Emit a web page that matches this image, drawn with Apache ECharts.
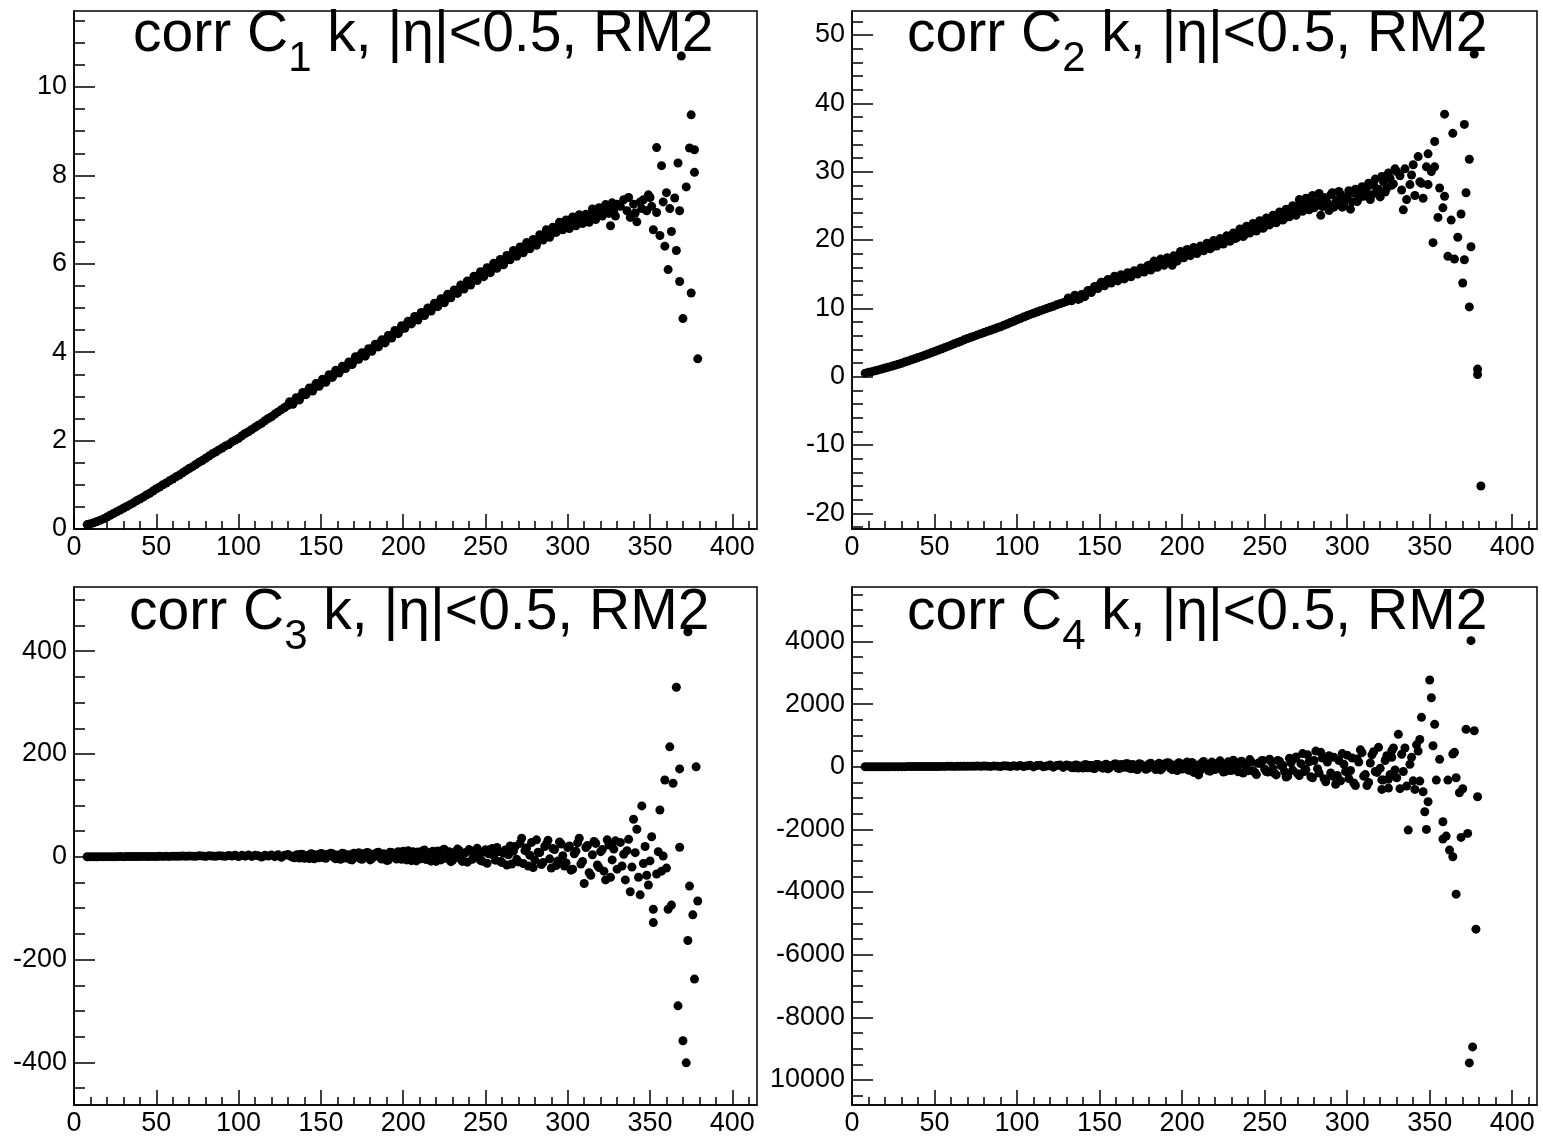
<!DOCTYPE html>
<html>
<head>
<meta charset="utf-8">
<script src="https://cdn.jsdelivr.net/npm/echarts@6/dist/echarts.min.js"></script>
<style>
html,body{margin:0;padding:0;background:#fff;}
#main{width:1543px;height:1144px;}
</style>
</head>
<body>
<div id="main"></div>
<script>
// multiplicity bins (dense part of every panel)
var k = [8,10,12,14,16,18,20,22,24,26,28,30,32,34,36,38,40,42,44,46,48,50,52,54,56,58,60,62,64,66,68,70,72,74,76,78,80,82,84,86,88,90,92,94,96,98,100,102,104,106,108,110,112,114,116,118,120,122,124,126,128,130,132,134,136,138,140,142,144,146,148,150,152,154,156,158,160,162,164,166,168,170,172,174,176,178,180,182,184,186,188,190,192,194,196,198,200,202,204,206,208,210,212,214,216,218,220,222,224,226,228,230,232,234,236,238,240,242,244,246,248,250,252,254,256,258,260,262,264,266,268,270,272,274,276,278,280,282,284,286,288,290,292,294,296,298,300,302,304,306,308,310,312,314,316,318,320,322,324,326,328,330];
// odd bins in the noisier middle range
var kOdd = [131,133,135,137,139,141,143,145,147,149,151,153,155,157,159,161,163,165,167,169,171,173,175,177,179,181,183,185,187,189,191,193,195,197,199,201,203,205,207,209,211,213,215,217,219,221,223,225,227,229,231,233,235,237,239,241,243,245,247,249,251,253,255,257,259,261,263,265,267,269,271,273,275,277,279,281,283,285,287,289,291,293,295,297,299,301,303,305,307,309,311,313,315,317,319,321,323,325,327,329];

// corr C1 k
var c1 = [0.10,0.12,0.14,0.17,0.20,0.23,0.27,0.31,0.35,0.39,
  0.43,0.47,0.51,0.55,0.59,0.64,0.68,0.72,0.77,0.81,
  0.86,0.91,0.95,1.00,1.04,1.09,1.13,1.18,1.22,1.27,
  1.32,1.37,1.41,1.46,1.51,1.55,1.60,1.65,1.70,1.74,
  1.79,1.83,1.88,1.91,1.97,2.01,2.05,2.11,2.16,2.20,
  2.25,2.30,2.35,2.39,2.45,2.50,2.54,2.60,2.65,2.70,
  2.75,2.80,2.85,2.89,2.95,3.01,3.05,3.12,3.14,3.20,
  3.24,3.31,3.37,3.40,3.46,3.51,3.55,3.60,3.66,3.70,
  3.75,3.80,3.86,3.93,3.95,3.99,4.05,4.10,4.14,4.20,
  4.25,4.30,4.35,4.40,4.46,4.50,4.56,4.63,4.66,4.72,
  4.76,4.82,4.87,4.91,4.96,5.02,5.06,5.12,5.16,5.20,
  5.27,5.33,5.36,5.42,5.47,5.53,5.56,5.62,5.67,5.72,
  5.76,5.80,5.86,5.90,5.95,6.00,6.04,6.08,6.12,6.20,
  6.22,6.28,6.30,6.36,6.40,6.45,6.48,6.55,6.58,6.66,
  6.70,6.68,6.78,6.83,6.85,6.90,6.88,6.92,6.98,6.95,
  7.05,7.02,6.98,7.10,7.15,7.08,7.22,7.18,7.26,7.30,
  7.20,7.35];
var c1Odd = [2.88,2.82,2.97,2.92,3.09,3.04,3.19,3.12,3.29,3.23,
  3.39,3.32,3.49,3.43,3.59,3.53,3.68,3.63,3.78,3.72,
  3.90,3.84,3.99,3.91,4.08,4.02,4.18,4.12,4.28,4.21,
  4.38,4.32,4.49,4.42,4.60,4.54,4.70,4.64,4.81,4.73,
  4.90,4.83,5.00,4.93,5.11,5.03,5.21,5.12,5.31,5.23,
  5.41,5.33,5.52,5.43,5.61,5.52,5.72,5.62,5.82,5.71,
  5.91,5.80,6.01,5.90,6.10,5.98,6.19,6.09,6.30,6.17,
  6.38,6.25,6.48,6.34,6.55,6.42,6.66,6.54,6.77,6.60,
  6.83,6.71,6.94,6.77,6.99,6.80,7.06,6.86,7.11,6.91,
  7.12,6.94,7.24,7.00,7.27,7.08,7.34,7.14,7.38,7.08];
var c1Tail = [[326,6.86],[332,7.30],[334,7.45],[336,7.20],[337,7.50],[338,7.05],[340,7.35],[341,7.15],[342,6.95],[344,7.40],[345,7.25],[346,7.45],[348,7.20],[349,7.56],[350,7.50],[351,7.30],[352,6.77],[354,8.63],[354,7.16],[356,6.64],[357,8.22],[358,7.40],[359,6.40],[360,7.61],[361,5.87],[362,7.25],[363,6.73],[365,7.49],[366,6.30],[367,8.28],[368,7.20],[368,5.60],[369,10.70],[370,4.76],[372,7.74],[374,8.62],[375,5.34],[375,9.37],[377,8.58],[377,8.07],[379,3.85]];

// corr C2 k
var c2 = [0.50,0.62,0.72,0.85,0.98,1.12,1.25,1.38,1.52,1.66,
  1.80,1.95,2.12,2.28,2.45,2.62,2.80,2.96,3.14,3.30,
  3.48,3.66,3.85,4.04,4.22,4.42,4.60,4.80,4.98,5.18,
  5.38,5.58,5.75,5.92,6.10,6.26,6.44,6.62,6.78,6.96,
  7.14,7.30,7.52,7.70,7.92,8.10,8.32,8.50,8.72,8.90,
  9.10,9.27,9.45,9.62,9.80,9.98,10.15,10.30,10.50,10.66,
  10.82,11.00,11.30,11.45,11.62,11.40,11.95,12.25,12.40,12.80,
  13.05,13.40,13.60,13.90,14.05,14.30,14.20,14.55,14.60,14.80,
  14.95,15.10,15.30,15.45,15.60,15.80,16.30,15.90,16.60,16.40,
  16.70,16.80,17.30,16.30,17.50,17.40,17.80,17.95,18.00,18.40,
  18.30,18.50,18.70,18.90,19.10,18.95,19.40,19.60,19.80,20.00,
  20.30,20.50,20.20,20.90,21.30,20.80,21.60,21.90,21.50,22.20,
  22.40,22.00,22.70,23.10,22.80,23.30,23.60,23.20,23.90,24.30,
  24.10,24.90,25.50,24.60,25.20,26.00,24.70,25.60,23.60,26.20,
  25.40,26.60,24.80,25.80,26.70,25.10,26.30,24.50,26.90,25.60,
  27.20,26.40,27.70,25.90,28.00,27.10,26.30,28.50,27.60,29.00,
  28.20,30.00];
var c2Odd = [11.5,11.1,11.9,11.3,12.0,11.7,12.6,12.3,13.2,12.9,
  13.8,13.3,14.2,13.7,14.7,14.0,14.9,14.3,15.2,14.6,
  15.5,15.0,15.9,15.3,16.2,15.6,16.9,16.0,17.2,16.3,
  17.4,16.6,17.7,16.9,18.3,17.4,18.6,17.7,18.9,18.0,
  19.1,18.4,19.5,18.7,19.9,19.1,20.2,19.4,20.6,19.8,
  21.0,20.3,21.6,20.5,22.0,21.0,22.4,21.3,22.8,21.7,
  23.2,22.2,23.6,22.5,24.1,22.9,24.5,23.4,25.0,23.6,
  25.9,24.2,26.1,24.4,26.5,25.0,26.8,24.9,25.8,24.3,
  26.9,25.5,27.1,24.8,26.0,27.2,25.6,27.4,26.1,27.8,
  26.8,28.3,26.6,28.9,27.4,29.3,27.0,29.8,28.0,30.4];
var c2Tail = [[332,29.4],[333,27.3],[334,24.4],[335,30.4],[336,25.9],[338,28.1],[339,29.5],[340,31.0],[341,26.5],[343,32.2],[344,28.5],[345,28.3],[346,26.1],[348,30.7],[349,28.1],[349,32.6],[351,30.0],[352,19.6],[353,34.4],[353,30.7],[355,23.3],[356,27.6],[358,24.7],[359,38.4],[359,26.4],[361,17.6],[363,22.9],[364,35.6],[365,17.2],[367,20.4],[369,23.8],[370,13.7],[371,36.9],[371,17.1],[372,26.9],[374,31.8],[374,10.2],[375,19.0],[377,47.2],[379,1.1],[379,0.3],[381,-16.0]];

// corr C3 k
var c3 = [0.0,0.1,0.1,0.1,0.2,0.2,0.2,0.3,0.3,0.3,
  0.4,0.3,0.5,0.4,0.5,0.6,0.4,0.7,0.6,0.5,
  0.8,0.6,0.9,0.7,1.0,0.8,1.2,0.9,1.1,1.3,
  0.9,1.5,1.2,1.0,1.8,1.4,0.8,2.0,1.5,1.1,
  2.2,1.3,0.9,2.5,1.6,3.0,0.5,2.8,1.2,3.5,
  0.8,3.0,2.0,-0.5,2.8,1.5,3.5,0.2,4.0,-1.0,
  3.0,4.5,1.0,-2.0,4.0,5.0,-3.0,2.5,6.0,-4.0,
  4.0,6.5,-2.0,5.0,7.0,-1.5,3.5,-5.0,6.0,3.0,
  -5.5,7.0,2.0,-4.0,6.0,8.5,-6.0,4.0,8.0,-2.0,
  6.0,-7.0,9.0,3.5,-4.5,8.0,11.0,-6.0,5.5,10.0,
  -8.0,4.0,12.0,-5.5,8.0,11.0,-9.0,6.0,13.0,-3.0,
  10.0,-7.0,5.0,12.5,-9.0,8.5,14.0,-5.0,11.5,2.0,
  -8.5,13.5,6.0,16.0,-6.5,10.0,-11.0,13.0,4.0,-14.0,
  20.0,-10.0,36.0,12.0,-18.0,28.0,-6.0,9.0,-15.0,20.0,
  32.0,-22.0,14.0,-8.0,25.0,-18.0,18.0,-26.0,6.0,27.0,
  -14.0,-52.0,22.0,-36.0,30.0,-16.0,10.0,-28.0,33.0,-40.0,
  15.0,-24.0];
var c3Odd = [2.0,-1.0,3.5,-2.5,4.5,1.0,-3.5,5.0,0.5,-2.0,
  5.5,-3.0,2.5,6.0,-4.0,1.5,7.0,-2.5,4.0,-6.0,
  3.0,8.0,-5.0,1.0,7.5,-3.5,5.5,9.0,-4.5,2.5,
  -6.5,8.5,1.5,10.0,-5.0,4.0,12.0,-7.5,2.0,9.5,
  -4.0,13.0,6.5,-8.5,3.0,11.5,-6.0,14.5,0.5,-9.5,
  8.0,15.0,-4.5,6.0,-10.5,12.0,3.0,16.5,-7.0,9.0,
  -12.5,14.0,2.5,18.0,-9.0,7.0,-16.0,21.0,11.0,-5.0,
  26.0,-13.0,17.0,3.0,-21.0,33.0,8.0,-11.0,24.0,-4.0,
  16.0,-17.0,29.0,2.0,-12.0,21.0,-24.0,11.0,36.0,-9.0,
  18.0,-31.0,4.0,26.0,-21.0,14.0,-45.0,23.0,-6.0,31.0];
var c3Tail = [[332,28],[333,-18],[334,5],[335,-45],[336,12],[337,34],[338,-68],[339,-20],[340,73],[341,8],[342,53.5],[343,-40],[344,-74],[345,99],[346,-13],[347,20],[348,-36],[349,-55],[350,-8],[351,39],[352,-102],[352,-128],[354,-33.5],[355,10],[356,91],[357,-28],[358,1.6],[359,149.5],[360,-22],[361,-102],[362,214],[363,-94],[364,143],[366,330],[367,-290],[368,171],[368,18.5],[370,-358],[372,-401],[373,438],[373,-163],[374,-57],[376,-113],[377,-238],[378,175],[379,-86]];

// corr C4 k
var c4 = [0,0,1,1,1,2,2,2,3,3,
  3,4,4,5,5,6,6,7,8,8,
  9,10,10,12,11,13,14,12,16,15,
  18,14,20,17,22,15,25,19,12,28,
  20,10,32,24,8,36,18,40,5,30,
  45,-5,38,52,0,25,60,-12,42,55,
  -20,55,30,-35,60,15,-40,65,40,-50,
  70,20,-45,80,-30,50,90,-55,45,95,
  -40,75,-70,100,10,-80,90,55,-90,110,
  -50,85,120,-90,30,130,-70,100,-110,140,
  -20,-260,120,60,-130,150,-90,130,20,-150,
  160,-110,80,-160,180,40,-130,150,-180,110,
  190,-70,-170,160,-210,200,30,-150,-300,130,
  260,-220,100,-150,380,-320,200,-60,460,-380,
  150,-200,300,-280,-450,80,370,-120,-520,250,
  540,-300,-600,120,480,-180,-50,-420,350,-250,
  600,-350];
var c4Odd = [30,-25,50,-40,20,65,-30,40,-55,75,
  -20,60,-65,35,85,-40,70,-15,100,-60,
  45,-90,80,20,-60,115,-30,70,-100,90,
  130,-50,60,-120,95,10,150,-85,-180,60,
  -110,170,40,-140,100,-60,190,-170,70,-120,
  210,-40,150,-200,60,230,-130,-250,110,200,
  -150,240,-60,-260,180,50,-330,270,-110,310,
  -280,420,-90,160,-350,500,-200,280,-480,350,
  -300,-560,200,420,-150,-380,280,-600,150,450,
  -250,-500,380,-150,620,-420,200,-680,300,-100];
var c4Tail = [[321,-722],[325,-393],[327,511],[331,1035],[332,-700],[333,400],[334,-150],[335,600],[336,-617],[337,-2022],[338,77],[339,300],[340,-450],[341,-722],[342,700],[343,500],[344,870],[344,-457],[345,1578],[346,-799],[347,-1438],[348,-2000],[349,-1118],[350,2770],[351,2205],[352,671],[353,1354],[354,-425],[356,236],[358,-1757],[358,-2310],[360,-2214],[361,-425],[362,-2661],[364,-2875],[364,406],[365,460],[366,-351],[366,-4067],[368,-831],[369,-2256],[370,-703],[372,1195],[373,-2128],[374,-9457],[375,4026],[376,-8946],[377,1150],[378,-5185],[379,-958]];

// ticks
var xMajor = [0,50,100,150,200,250,300,350,400];
var xMinor = [10,20,30,40,60,70,80,90,110,120,130,140,160,170,180,190,210,220,230,240,260,270,280,290,310,320,330,340,360,370,380,390,410];
var y1Major = [0,2,4,6,8,10];
var y1Minor = [0.5,1,1.5,2.5,3,3.5,4.5,5,5.5,6.5,7,7.5,8.5,9,9.5,10.5,11,11.5];
var y2Major = [-20,-10,0,10,20,30,40,50];
var y2Minor = [-22,-18,-16,-14,-12,-8,-6,-4,-2,2,4,6,8,12,14,16,18,22,24,26,28,32,34,36,38,42,44,46,48,52];
var y3Major = [-400,-200,0,200,400];
var y3Minor = [-450,-350,-300,-250,-150,-100,-50,50,100,150,250,300,350,450,500];
var y4Major = [-10000,-8000,-6000,-4000,-2000,0,2000,4000];
var y4Minor = [-10500,-9500,-9000,-8500,-7500,-7000,-6500,-5500,-5000,-4500,-3500,-3000,-2500,-1500,-1000,-500,500,1000,1500,2500,3000,3500,4500,5000,5500];

var FONT = "'Liberation Sans', Arial, Helvetica, sans-serif";

var panels = [
  {sub:'1', y:c1, odd:c1Odd, tail:c1Tail, ymin:0, ymax:11.72, major:y1Major, minor:y1Minor, left:74, top:11, width:683, titleLeft:133, titleTop:18},
  {sub:'2', y:c2, odd:c2Odd, tail:c2Tail, ymin:-22.3, ymax:53.5, major:y2Major, minor:y2Minor, left:852, top:11, width:685, titleLeft:907, titleTop:18},
  {sub:'3', y:c3, odd:c3Odd, tail:c3Tail, ymin:-483, ymax:525, major:y3Major, minor:y3Minor, left:74, top:587, width:683, titleLeft:129, titleTop:596},
  {sub:'4', y:c4, odd:c4Odd, tail:c4Tail, ymin:-10800, ymax:5740, major:y4Major, minor:y4Minor, left:852, top:587, width:685, titleLeft:907, titleTop:596}
];

var myChart = echarts.init(document.getElementById('main'), null, {renderer:'canvas'});

var grids=[], xAxes=[], yAxes=[], series=[], titles=[];
var black = '#000';

panels.forEach(function(p, i){
  grids.push({
    left:p.left, top:p.top, width:p.width, height:518,
    show:true, borderColor:black, borderWidth:1.5, backgroundColor:'transparent',
    containLabel:false, outerBoundsMode:'none'
  });
  // major x ticks + labels
  xAxes.push({
    type:'value', gridIndex:i, min:0, max:415, position:'bottom',
    axisLine:{show:true, onZero:false, lineStyle:{color:black, width:1.5}},
    axisTick:{show:true, inside:true, length:15, customValues:xMajor, lineStyle:{color:black, width:1.5}},
    axisLabel:{show:true, customValues:xMajor, margin:5, color:black, fontSize:27, fontFamily:FONT},
    splitLine:{show:false}
  });
  // minor x ticks
  xAxes.push({
    type:'value', gridIndex:i, min:0, max:415, position:'bottom',
    axisLine:{show:false, onZero:false},
    axisTick:{show:true, inside:true, length:8, customValues:xMinor, lineStyle:{color:black, width:1.5}},
    axisLabel:{show:false},
    splitLine:{show:false}
  });
  yAxes.push({
    type:'value', gridIndex:i, min:p.ymin, max:p.ymax, position:'left',
    axisLine:{show:true, onZero:false, lineStyle:{color:black, width:1.5}},
    axisTick:{show:true, inside:true, length:21, customValues:p.major, lineStyle:{color:black, width:1.5}},
    axisLabel:{show:true, customValues:p.major, margin:7, color:black, fontSize:27, fontFamily:FONT,
      formatter:function(v){
        // the minus of -10000 is cut off at the panel edge in the original figure
        if (v === -10000) return '10000';
        return String(v);
      }},
    splitLine:{show:false}
  });
  yAxes.push({
    type:'value', gridIndex:i, min:p.ymin, max:p.ymax, position:'left',
    axisLine:{show:false, onZero:false},
    axisTick:{show:true, inside:true, length:11, customValues:p.minor, lineStyle:{color:black, width:1.5}},
    axisLabel:{show:false},
    splitLine:{show:false}
  });

  var pts = [];
  for (var j = 0; j < k.length; j++) pts.push([k[j], p.y[j]]);
  if (p.odd) {
    for (var m = 0; m < kOdd.length; m++) pts.push([kOdd[m], p.odd[m]]);
  }
  pts = pts.concat(p.tail);
  series.push({
    type:'scatter', xAxisIndex:2*i, yAxisIndex:2*i, data:pts,
    symbol:'circle', symbolSize:9, itemStyle:{color:black, opacity:1},
    silent:true, animation:false, z:2
  });

  // subscript: padding pushes the small digit down inside the line box
  titles.push({
    left:p.titleLeft, top:p.titleTop, padding:0,
    text:'{m|corr C}{s|' + p.sub + '}{m| k, |η|<0.5, RM2}',
    textStyle:{
      fontWeight:'normal',
      rich:{
        m:{fontSize:57, lineHeight:58, padding:[0,0,24,0], color:black, fontFamily:FONT, fontWeight:'normal'},
        s:{fontSize:42, lineHeight:42, padding:[24,0,0,0], color:black, fontFamily:FONT, fontWeight:'normal'}
      }
    }
  });
});

var option = {
  backgroundColor:'#fff',
  animation:false,
  title:titles,
  grid:grids,
  xAxis:xAxes,
  yAxis:yAxes,
  series:series
};
myChart.setOption(option);
</script>
</body>
</html>
